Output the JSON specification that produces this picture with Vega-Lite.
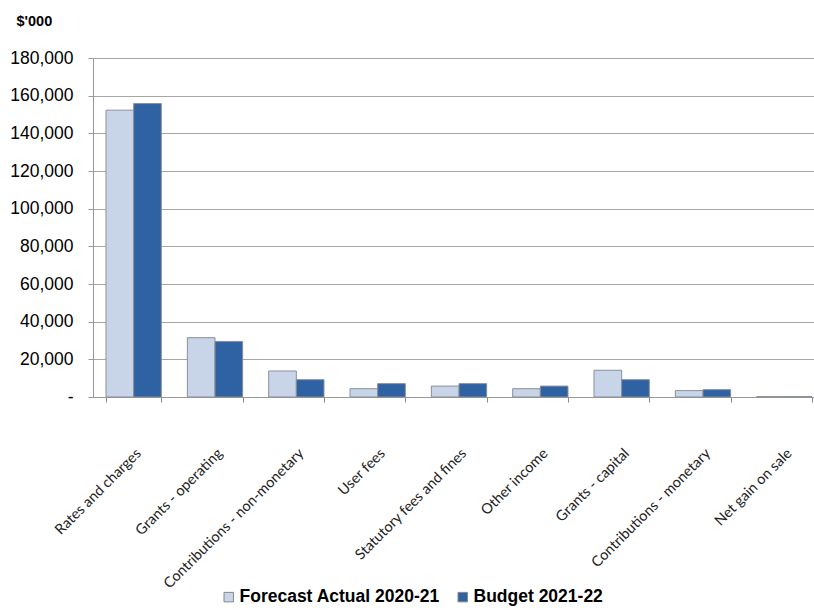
{
  "$schema": "https://vega.github.io/schema/vega-lite/v6.json",
  "autosize": {"type": "none"},
  "width": 721,
  "height": 339,
  "padding": {"left": 93, "top": 58, "right": 0, "bottom": 213},
  "background": "white",
  "data": {"values": [
    {"category": "Rates and charges", "series": "Forecast Actual 2020-21", "value": 152300},
    {"category": "Rates and charges", "series": "Budget 2021-22", "value": 155800},
    {"category": "Grants - operating", "series": "Forecast Actual 2020-21", "value": 31500},
    {"category": "Grants - operating", "series": "Budget 2021-22", "value": 29500},
    {"category": "Contributions - non-monetary", "series": "Forecast Actual 2020-21", "value": 13800},
    {"category": "Contributions - non-monetary", "series": "Budget 2021-22", "value": 9200},
    {"category": "User fees", "series": "Forecast Actual 2020-21", "value": 4400},
    {"category": "User fees", "series": "Budget 2021-22", "value": 7100},
    {"category": "Statutory fees and fines", "series": "Forecast Actual 2020-21", "value": 5800},
    {"category": "Statutory fees and fines", "series": "Budget 2021-22", "value": 7100},
    {"category": "Other income", "series": "Forecast Actual 2020-21", "value": 4400},
    {"category": "Other income", "series": "Budget 2021-22", "value": 5800},
    {"category": "Grants - capital", "series": "Forecast Actual 2020-21", "value": 14200},
    {"category": "Grants - capital", "series": "Budget 2021-22", "value": 9200},
    {"category": "Contributions - monetary", "series": "Forecast Actual 2020-21", "value": 3400},
    {"category": "Contributions - monetary", "series": "Budget 2021-22", "value": 3900},
    {"category": "Net gain on sale", "series": "Forecast Actual 2020-21", "value": 200},
    {"category": "Net gain on sale", "series": "Budget 2021-22", "value": 200}
  ]},
  "mark": {"type": "bar", "strokeWidth": 1, "stroke": "#8a8f99", "clip": false},
  "encoding": {
    "x": {
      "field": "category", "type": "nominal", "sort": null,
      "scale": {"paddingInner": 0.32, "paddingOuter": 0.16, "range": [0, 732]},
      "axis": {
        "title": null, "labelAngle": -45, "labelAlign": "right", "labelBaseline": "top",
        "labelFont": "Lato", "labelFontSize": 14.5, "labelColor": "#222",
        "labelPadding": 44, "labelOverlap": false, "labelBound": false, "labelLimit": 0,
        "tickBand": "extent", "ticks": true, "tickSize": 5,
        "tickColor": "#888", "domainColor": "#999", "grid": false
      }
    },
    "xOffset": {"field": "series", "type": "nominal", "sort": ["Forecast Actual 2020-21", "Budget 2021-22"]},
    "y": {
      "field": "value", "type": "quantitative",
      "scale": {"domain": [0, 180000]},
      "axis": {
        "title": "$'000", "titleAngle": 0, "titleAlign": "left", "titleBaseline": "alphabetic",
        "titleX": -77, "titleY": -33, "titleFont": "Liberation Sans", "titleFontSize": 14.5, "titleFontWeight": "bold", "titleColor": "#000",
        "values": [0, 20000, 40000, 60000, 80000, 100000, 120000, 140000, 160000, 180000],
        "labelExpr": "datum.value == 0 ? '-' : format(datum.value, ',')",
        "labelFont": "Liberation Sans", "labelFontSize": 17.5, "labelColor": "#000", "labelPadding": 15,
        "tickSize": 5, "tickColor": "#999", "domainColor": "#999",
        "grid": true, "gridColor": "#a6a6a6", "gridWidth": 1
      }
    },
    "color": {
      "field": "series", "type": "nominal",
      "sort": ["Forecast Actual 2020-21", "Budget 2021-22"],
      "scale": {"domain": ["Forecast Actual 2020-21", "Budget 2021-22"], "range": ["#c8d4e8", "#2f62a3"]},
      "legend": {
        "title": null, "orient": "none", "direction": "horizontal", "legendX": 127, "legendY": 530,
        "labelFont": "Liberation Sans", "labelFontSize": 17.5, "labelFontWeight": "bold", "labelColor": "#000",
        "labelLimit": 0, "symbolType": "square", "symbolSize": 90, "symbolStrokeColor": "#888", "symbolStrokeWidth": 1,
        "columnPadding": 14, "labelOffset": 2
      }
    }
  },
  "config": {"view": {"stroke": null}}
}
